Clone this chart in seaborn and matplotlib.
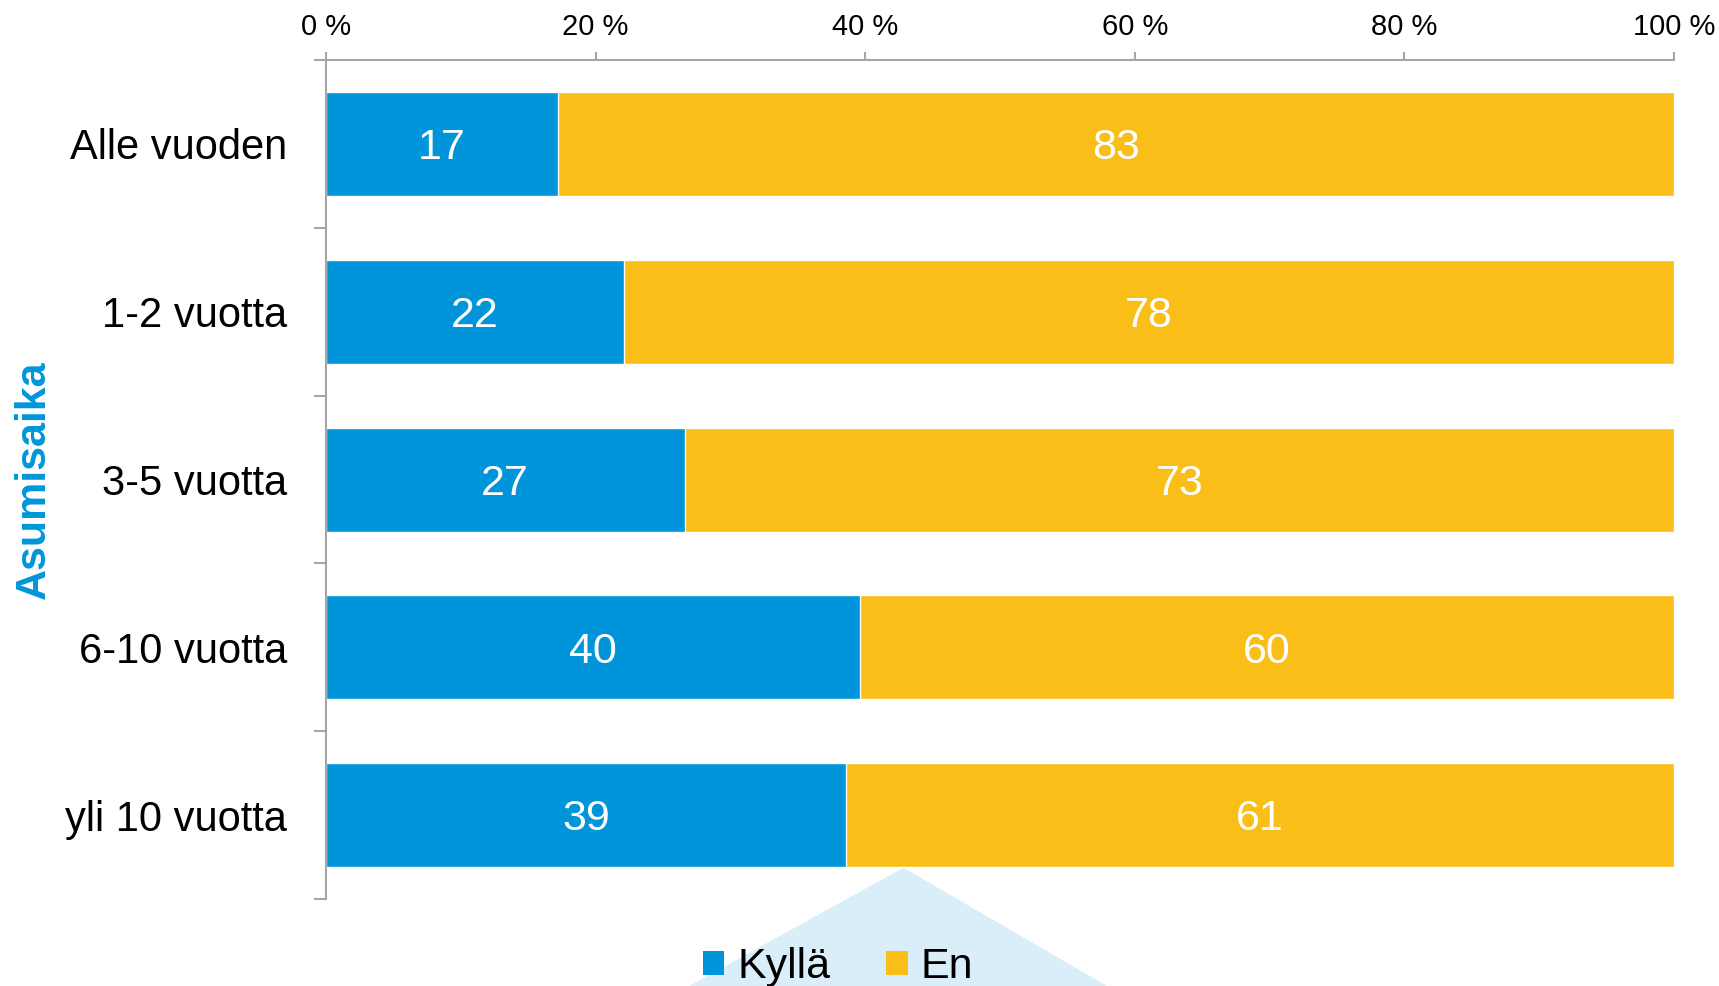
import pandas as pd
import matplotlib.pyplot as plt
import seaborn as sns
from matplotlib.patches import Polygon, Patch
from matplotlib.ticker import MultipleLocator, FuncFormatter

sns.set_theme(style="white")
plt.rcParams['font.family'] = ['Liberation Sans', 'DejaVu Sans']
plt.rcParams['text.color'] = 'black'
plt.rcParams['xtick.labelcolor'] = 'black'
plt.rcParams['ytick.labelcolor'] = 'black'

# Data
categories = ['Alle vuoden', '1-2 vuotta', '3-5 vuotta', '6-10 vuotta', 'yli 10 vuotta']
kylla = [17.2, 22.1, 26.6, 39.6, 38.6]
en = [82.8, 77.9, 73.4, 60.4, 61.4]
series_names = ['Kyllä', 'En']
axis_title = 'Asumisaika'

blue = '#0095DA'
yellow = '#F9BE17'
grey = '#A6A6A6'

df = pd.DataFrame({'cat': categories, 'Kyllä': kylla, 'En': en})
df['total'] = df['Kyllä'] + df['En']

fig = plt.figure(figsize=(17.19, 9.86), dpi=100)
ax = fig.add_axes([0.1896, 0.0882, 0.7842, 0.8509])
ax.patch.set_alpha(0)

# light blue decoration behind the chart
fig.add_artist(Polygon([[0.401, 0.0], [0.5255, 0.12], [0.644, 0.0]], closed=True,
                       transform=fig.transFigure, facecolor='#DAEEFA',
                       edgecolor='none', zorder=-1))

# stacked bars: full bar in yellow, blue share drawn on top
sns.barplot(data=df, y='cat', x='total', color=yellow, width=0.62,
            saturation=1, ax=ax, orient='h')
sns.barplot(data=df, y='cat', x='Kyllä', color=blue, width=0.62,
            saturation=1, ax=ax, orient='h')

n = len(categories)
yel_patches = ax.patches[:n]
blu_patches = ax.patches[n:]
for pb, py, k, e in zip(blu_patches, yel_patches, kylla, en):
    yc = pb.get_y() + pb.get_height() / 2
    ax.annotate(f"{k:.0f}", (pb.get_x() + pb.get_width() / 2, yc),
                xytext=(0, -3), textcoords='offset points', color='white',
                ha='center', va='center', fontsize=31)
    ax.annotate(f"{e:.0f}", (pb.get_width() + (py.get_width() - pb.get_width()) / 2, yc),
                xytext=(0, -3), textcoords='offset points', color='white',
                ha='center', va='center', fontsize=31)

# axes styling
ax.set_xlim(0, 100)
ax.set_ylim(n - 0.5, -0.5)
ax.xaxis.tick_top()
ax.xaxis.set_major_locator(MultipleLocator(20))
ax.xaxis.set_major_formatter(FuncFormatter(lambda v, p: f"{v:.0f} %"))
ax.tick_params(axis='x', which='major', length=6, width=1.5, color=grey,
               pad=8, labelsize=21, top=True, bottom=False, direction='out')
ax.set_yticks(range(n))
ax.set_yticks([i - 0.5 for i in range(n + 1)], minor=True)
ax.tick_params(axis='y', which='major', length=0, pad=28, labelsize=30)
ax.tick_params(axis='y', which='minor', length=9, width=1.5, color=grey,
               left=True, direction='out')
for side in ['right', 'bottom']:
    ax.spines[side].set_visible(False)
for side in ['left', 'top']:
    ax.spines[side].set_color(grey)
    ax.spines[side].set_linewidth(1.5)
ax.grid(False)

ax.set_xlabel('')
ax.set_ylabel(axis_title, color=blue, fontsize=31, fontweight='bold')
ax.yaxis.set_label_coords(-0.202, 0.5)

handles = [Patch(facecolor=blue, edgecolor='none'), Patch(facecolor=yellow, edgecolor='none')]
fig.legend(handles, series_names, loc='center', bbox_to_anchor=(0.4875, 0.019),
           ncol=2, frameon=False, fontsize=31, handlelength=0.5, handleheight=0.5,
           handletextpad=0.3, columnspacing=1.3, borderaxespad=0)

plt.savefig('out.png', dpi=100)
plt.close()
